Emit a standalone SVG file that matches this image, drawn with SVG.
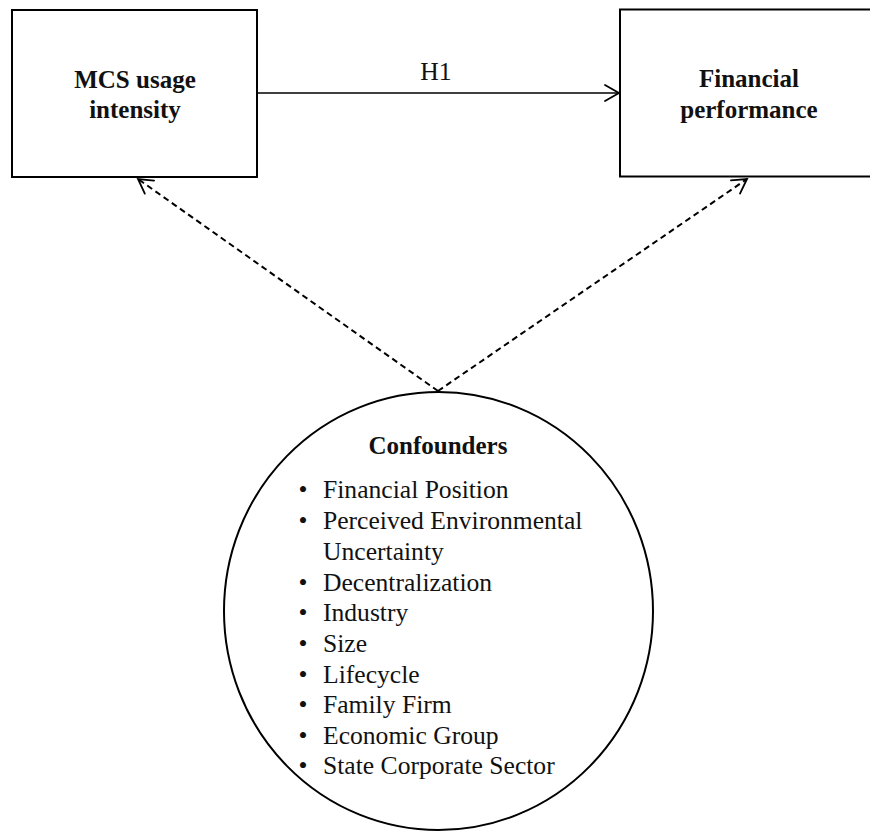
<svg xmlns="http://www.w3.org/2000/svg" width="870" height="831" viewBox="0 0 870 831">
<style>
.box{fill:#fff;stroke:#000;stroke-width:2}
.lbl{font-family:"Liberation Serif","Times New Roman",serif;font-weight:bold;font-size:25px;fill:#111;text-anchor:middle}
.txt{font-family:"Liberation Serif","Times New Roman",serif;font-size:25.6px;fill:#111}
.solid{fill:none;stroke:#000;stroke-width:1.6}
.dash{fill:none;stroke:#000;stroke-width:2;stroke-dasharray:6 4}
.head{fill:none;stroke:#000;stroke-width:1.8;stroke-linecap:round;stroke-linejoin:miter}
</style>
<defs>
<marker id="arr" viewBox="-16 -10 20 20" refX="0" refY="0" markerWidth="20" markerHeight="20" markerUnits="userSpaceOnUse" orient="auto">
<path class="head" d="M-14,-8 L0,0 L-14,8"/>
</marker>
</defs>
<rect width="870" height="831" fill="#fff"/>
<g id="connectors">
<line class="solid" x1="257" y1="93" x2="619" y2="93" marker-end="url(#arr)"/>
<text class="txt" x="436" y="80" text-anchor="middle" font-size="21">H1</text>
<line class="dash" x1="438" y1="391" x2="138" y2="179" marker-end="url(#arr)"/>
<line class="dash" x1="438" y1="391" x2="747" y2="179" marker-end="url(#arr)"/>
</g>
<g id="mcs">
<rect class="box" x="12" y="10" width="245" height="167"/>
<text class="lbl" x="135" y="88">MCS usage</text>
<text class="lbl" x="135" y="118">intensity</text>
</g>
<g id="financial">
<rect class="box" x="620" y="9.5" width="300" height="167"/>
<text class="lbl" x="749" y="87">Financial</text>
<text class="lbl" x="749" y="118">performance</text>
</g>
<g id="confounders">
<ellipse cx="438.5" cy="611" rx="214.5" ry="219" fill="#fff" stroke="#000" stroke-width="2"/>
<text class="lbl" x="438" y="454">Confounders</text>
<g class="txt">
<text x="303" y="498" text-anchor="middle">•</text><text x="323" y="498">Financial Position</text>
<text x="303" y="529" text-anchor="middle">•</text><text x="323" y="529">Perceived Environmental</text>
<text x="323" y="560">Uncertainty</text>
<text x="303" y="591" text-anchor="middle">•</text><text x="323" y="591">Decentralization</text>
<text x="303" y="621" text-anchor="middle">•</text><text x="323" y="621">Industry</text>
<text x="303" y="652" text-anchor="middle">•</text><text x="323" y="652">Size</text>
<text x="303" y="683" text-anchor="middle">•</text><text x="323" y="683">Lifecycle</text>
<text x="303" y="713" text-anchor="middle">•</text><text x="323" y="713">Family Firm</text>
<text x="303" y="744" text-anchor="middle">•</text><text x="323" y="744">Economic Group</text>
<text x="303" y="774" text-anchor="middle">•</text><text x="323" y="774">State Corporate Sector</text>
</g>
</g>
</svg>
